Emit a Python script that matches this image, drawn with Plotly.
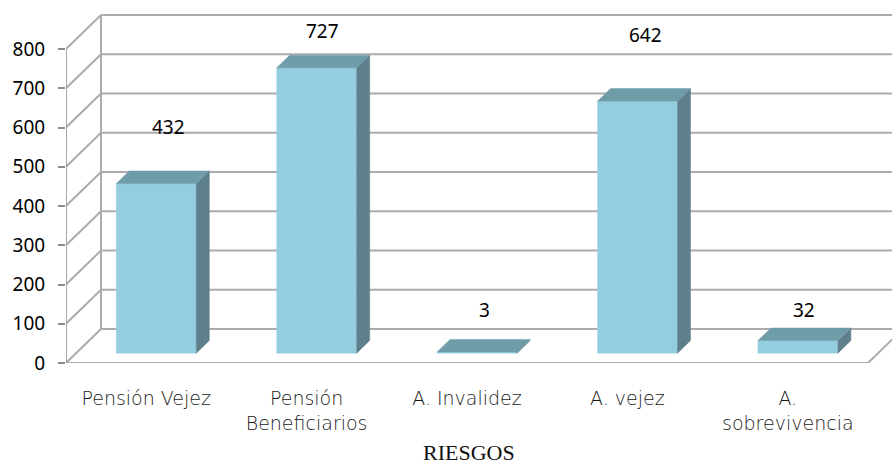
import plotly.graph_objects as go

# Data
categories = ["Pensión Vejez", "Pensión<br>Beneficiarios", "A. Invalidez", "A. vejez", "A.<br>sobrevivencia"]
values = [432, 727, 3, 642, 32]
y_ticks = [0, 100, 200, 300, 400, 500, 600, 700, 800]

# Layout geometry (axis units): x in category widths, y in value units
W, H = 892, 464
PX_X0, PX_CAT = 66, 160.4          # pixel of x=0, pixels per category
PX_Y0, PX_PER_UNIT = 363, 0.3925   # pixel of y=0, pixels per value unit
ML, MR, MT = 66, 0, 10
MB = H - PX_Y0
x_max = (W - ML - MR) / PX_CAT
y_max = (PX_Y0 - MT) / PX_PER_UNIT

DX = 35 / PX_CAT        # depth offset of the back wall, x
DY = 34 / PX_PER_UNIT   # depth offset of the back wall, y
N = len(categories)
YMAX = 800

F0, F1 = 0.29, 0.66      # bar depth span (fraction of full depth)
HALF_W = 40 / PX_CAT

FRONT, TOP, SIDE = "#95cde0", "#6f9ca9", "#5e7f8b"
GRID = "#acacac"

fig = go.Figure()
shapes = []

def line(x0, y0, x1, y1, color=GRID, width=2):
    shapes.append(dict(type="line", xref="x", yref="y", x0=x0, y0=y0, x1=x1, y1=y1,
                       line=dict(color=color, width=width), layer="below"))

# back wall gridlines and left wall diagonals
for t in y_ticks:
    line(DX, t + DY, N + DX, t + DY)
    line(0, t, DX, t + DY)
# left wall back edge
line(DX, DY, DX, YMAX + DY)
# floor front edge and right edge
line(0, 0, N, 0)
line(N, 0, N + DX, DY)
# front value axis
line(0, 0, 0, YMAX, color="#8c8c8c", width=1.5)
# category boundary ticks
for k in range(N + 1):
    shapes.append(dict(type="line", xref="x", yref="y", x0=k, x1=k,
                       y0=0, y1=-8 / PX_PER_UNIT, line=dict(color="#8c8c8c", width=1.5)))

# 3D bars
ddx, ddy = (F1 - F0) * DX, (F1 - F0) * DY
b0 = F0 * DY
for i, v in enumerate(values):
    cx = i + 0.5 + F0 * DX
    xl, xr = cx - HALF_W, cx + HALF_W
    polys = [
        ([xl, xr, xr, xl, xl], [b0, b0, b0 + v, b0 + v, b0], FRONT),
        ([xr, xr + ddx, xr + ddx, xr, xr], [b0, b0 + ddy, b0 + v + ddy, b0 + v, b0], SIDE),
        ([xl, xr, xr + ddx, xl + ddx, xl], [b0 + v, b0 + v, b0 + v + ddy, b0 + v + ddy, b0 + v], TOP),
    ]
    for xs, ys, col in polys:
        fig.add_trace(go.Scatter(x=xs, y=ys, mode="lines", fill="toself", fillcolor=col,
                                 line=dict(color=col, width=0.5), hoverinfo="skip",
                                 showlegend=False))

# value labels
label_x = [0.636, 1.596, 2.611, 3.615, 4.601]
label_y = [601, 846, 134, 836, 134]
annotations = []
for v, lx, ly in zip(values, label_x, label_y):
    annotations.append(dict(x=lx, y=ly, xref="x", yref="y", text=str(v), showarrow=False,
                            font=dict(family="Noto Sans", size=19, color="#000000")))

# axis title
annotations.append(dict(x=(469 - ML) / (W - ML - MR), y=-(452 - PX_Y0) / (PX_Y0 - MT),
                        xref="paper", yref="paper", xanchor="center", yanchor="middle",
                        text="RIESGOS", showarrow=False,
                        font=dict(family="Liberation Serif", size=22, color="#111111")))

fig.update_layout(
    width=W, height=H,
    margin=dict(l=ML, r=MR, t=MT, b=MB),
    paper_bgcolor="white", plot_bgcolor="white",
    shapes=shapes, annotations=annotations,
    xaxis=dict(range=[0, x_max], showgrid=False, zeroline=False, showline=False,
               tickvals=[i + 0.5 for i in range(N)], ticktext=categories, ticks="",
               ticklabelstandoff=22,
               tickfont=dict(family="DejaVu Sans", weight=200, size=19, color="#1a1a1a")),
    yaxis=dict(range=[0, y_max], showgrid=False, zeroline=False, showline=False,
               tickvals=y_ticks, ticks="outside", ticklen=7, tickcolor="#8c8c8c",
               tickwidth=1.5, ticklabelstandoff=9,
               tickfont=dict(family="Noto Sans", size=19, color="#000000")),
)

fig.write_html("out.html")
